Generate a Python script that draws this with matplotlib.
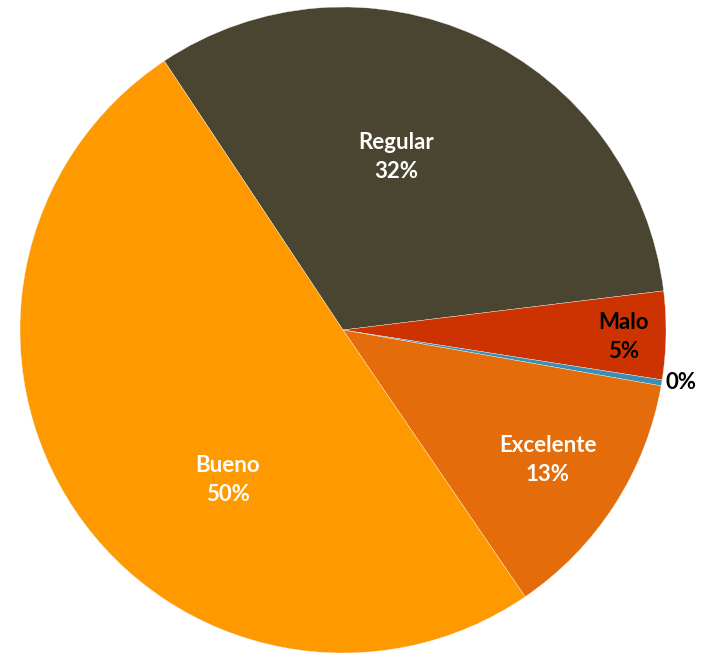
import numpy as np
import matplotlib.pyplot as plt

# Datos del gráfico (lectura aproximada de la imagen)
categorias = ["Regular", "Malo", "", "Excelente", "Bueno"]
valores = [32.4, 4.4, 0.3, 12.7, 50.2]
etiquetas_pct = ["32%", "5%", "0%", "13%", "50%"]
colores = ["#4A4530", "#CC3300", "#3A8FB7", "#E46C0A", "#FF9900"]
color_texto = ["white", "black", "black", "white", "white"]

# posición de cada etiqueta: (ángulo en grados, distancia relativa al radio)
pos_etiquetas = [(72.9, 0.56), (-1.4, 0.87), (-8.9, 1.06), (-32.4, 0.75), (232.5, 0.585)]

fig = plt.figure(figsize=(7.11, 6.53), dpi=100)
ax = fig.add_axes([20 / 711, 0, 646 / 711, 646 / 653])

ax.pie(valores, colors=colores, startangle=123.6, counterclock=False,
       wedgeprops=dict(edgecolor="#f4f4f4", linewidth=0.25))
ax.set_xlim(-1, 1)
ax.set_ylim(-1, 1)
ax.set_aspect("equal")
ax.axis("off")

for cat, pct, col, (ang, r) in zip(categorias, etiquetas_pct, color_texto, pos_etiquetas):
    x = r * np.cos(np.radians(ang))
    y = r * np.sin(np.radians(ang))
    txt = f"{cat}\n{pct}" if cat else pct
    ax.text(x, y, txt, ha="center", va="center", color=col, fontsize=16,
            fontweight="bold", family=["Lato", "DejaVu Sans"], linespacing=1.45)

fig.savefig("out.png", dpi=100)
